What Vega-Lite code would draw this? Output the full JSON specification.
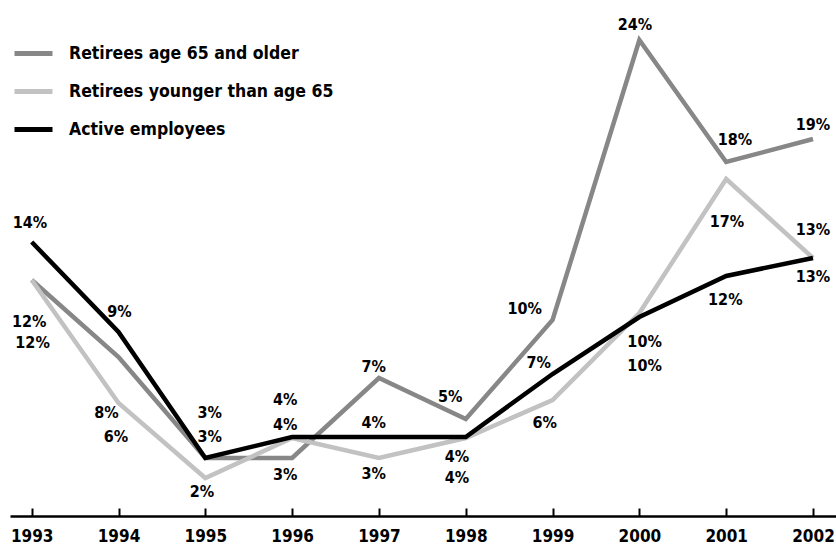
{
  "$schema": "https://vega.github.io/schema/vega-lite/v6.json",
  "width": 826,
  "height": 500,
  "autosize": "none",
  "padding": {"left": 10, "top": 16, "right": 0, "bottom": 29},
  "config": {"view": {"stroke": null}, "font": "DejaVu Sans Condensed, Liberation Sans Narrow, Arial Narrow, sans-serif"},
  "datasets": {
    "series": [
      {"year": 1993, "series": "Retirees age 65 and older", "value": 11.8},
      {"year": 1994, "series": "Retirees age 65 and older", "value": 7.95},
      {"year": 1995, "series": "Retirees age 65 and older", "value": 2.9},
      {"year": 1996, "series": "Retirees age 65 and older", "value": 2.9},
      {"year": 1997, "series": "Retirees age 65 and older", "value": 6.9},
      {"year": 1998, "series": "Retirees age 65 and older", "value": 4.85},
      {"year": 1999, "series": "Retirees age 65 and older", "value": 9.8},
      {"year": 2000, "series": "Retirees age 65 and older", "value": 23.8},
      {"year": 2001, "series": "Retirees age 65 and older", "value": 17.7},
      {"year": 2002, "series": "Retirees age 65 and older", "value": 18.85},
      {"year": 1993, "series": "Retirees younger than age 65", "value": 11.8},
      {"year": 1994, "series": "Retirees younger than age 65", "value": 5.65},
      {"year": 1995, "series": "Retirees younger than age 65", "value": 1.9},
      {"year": 1996, "series": "Retirees younger than age 65", "value": 3.9},
      {"year": 1997, "series": "Retirees younger than age 65", "value": 2.9},
      {"year": 1998, "series": "Retirees younger than age 65", "value": 3.9},
      {"year": 1999, "series": "Retirees younger than age 65", "value": 5.8},
      {"year": 2000, "series": "Retirees younger than age 65", "value": 10.15},
      {"year": 2001, "series": "Retirees younger than age 65", "value": 16.85},
      {"year": 2002, "series": "Retirees younger than age 65", "value": 12.9},
      {"year": 1993, "series": "Active employees", "value": 13.7},
      {"year": 1994, "series": "Active employees", "value": 9.2},
      {"year": 1995, "series": "Active employees", "value": 2.9},
      {"year": 1996, "series": "Active employees", "value": 3.95},
      {"year": 1997, "series": "Active employees", "value": 3.95},
      {"year": 1998, "series": "Active employees", "value": 3.95},
      {"year": 1999, "series": "Active employees", "value": 7.1},
      {"year": 2000, "series": "Active employees", "value": 9.95},
      {"year": 2001, "series": "Active employees", "value": 12.0},
      {"year": 2002, "series": "Active employees", "value": 12.9}
    ],
    "labels": [
      {"lx": 1992.98, "ly": 14.65, "label": "14%"},
      {"lx": 1992.97, "ly": 9.7, "label": "12%"},
      {"lx": 1993.01, "ly": 8.65, "label": "12%"},
      {"lx": 1994.01, "ly": 10.2, "label": "9%"},
      {"lx": 1993.86, "ly": 5.15, "label": "8%"},
      {"lx": 1993.97, "ly": 3.95, "label": "6%"},
      {"lx": 1995.05, "ly": 5.15, "label": "3%"},
      {"lx": 1995.05, "ly": 3.95, "label": "3%"},
      {"lx": 1994.96, "ly": 1.2, "label": "2%"},
      {"lx": 1995.92, "ly": 5.8, "label": "4%"},
      {"lx": 1995.92, "ly": 4.55, "label": "4%"},
      {"lx": 1995.92, "ly": 2.05, "label": "3%"},
      {"lx": 1996.94, "ly": 7.45, "label": "7%"},
      {"lx": 1996.94, "ly": 4.65, "label": "4%"},
      {"lx": 1996.94, "ly": 2.1, "label": "3%"},
      {"lx": 1997.82, "ly": 5.95, "label": "5%"},
      {"lx": 1997.9, "ly": 2.95, "label": "4%"},
      {"lx": 1997.9, "ly": 1.9, "label": "4%"},
      {"lx": 1998.68, "ly": 10.35, "label": "10%"},
      {"lx": 1998.84, "ly": 7.65, "label": "7%"},
      {"lx": 1998.91, "ly": 4.65, "label": "6%"},
      {"lx": 1999.95, "ly": 24.55, "label": "24%"},
      {"lx": 2000.06, "ly": 8.7, "label": "10%"},
      {"lx": 2000.06, "ly": 7.5, "label": "10%"},
      {"lx": 2001.1, "ly": 18.8, "label": "18%"},
      {"lx": 2001.01, "ly": 14.7, "label": "17%"},
      {"lx": 2000.99, "ly": 10.8, "label": "12%"},
      {"lx": 2002.0, "ly": 19.55, "label": "19%"},
      {"lx": 2002.0, "ly": 14.3, "label": "13%"},
      {"lx": 2002.0, "ly": 11.95, "label": "13%"}
    ]
  },
  "layer": [
    {
      "data": {"name": "series"},
      "mark": {"type": "line", "strokeWidth": 4.5},
      "encoding": {
        "x": {
          "field": "year",
          "type": "quantitative",
          "scale": {"domain": [1992.75, 2002.265], "nice": false, "zero": false},
          "axis": {
            "title": null,
            "values": [1993, 1994, 1995, 1996, 1997, 1998, 1999, 2000, 2001, 2002],
            "format": "d",
            "grid": false,
            "domainColor": "#000000",
            "domainWidth": 2.5,
            "tickColor": "#000000",
            "tickWidth": 2,
            "tickSize": -8,
            "labelFontSize": 17,
            "labelFontWeight": "bold",
            "labelColor": "#000000",
            "labelPadding": 20,
            "labelFlush": false
          }
        },
        "y": {
          "field": "value",
          "type": "quantitative",
          "scale": {"domain": [0, 25], "nice": false},
          "axis": null
        },
        "color": {
          "field": "series",
          "type": "nominal",
          "scale": {
            "domain": ["Retirees age 65 and older", "Retirees younger than age 65", "Active employees"],
            "range": ["#878787", "#c2c2c2", "#000000"]
          },
          "legend": {
            "orient": "none",
            "legendX": 2,
            "legendY": 16,
            "title": null,
            "padding": 0,
            "symbolType": "stroke",
            "symbolSize": 1444,
            "symbolStrokeWidth": 5,
            "labelFontSize": 17.5,
            "labelFontWeight": "bold",
            "labelColor": "#000000",
            "labelOffset": 14,
            "rowPadding": 6,
            "labelLimit": 400
          }
        }
      }
    },
    {
      "data": {"name": "labels"},
      "mark": {"type": "text", "fontSize": 16, "fontWeight": "bold", "baseline": "middle", "color": "#000000"},
      "encoding": {
        "x": {"field": "lx", "type": "quantitative"},
        "y": {"field": "ly", "type": "quantitative"},
        "text": {"field": "label", "type": "nominal"}
      }
    }
  ]
}
